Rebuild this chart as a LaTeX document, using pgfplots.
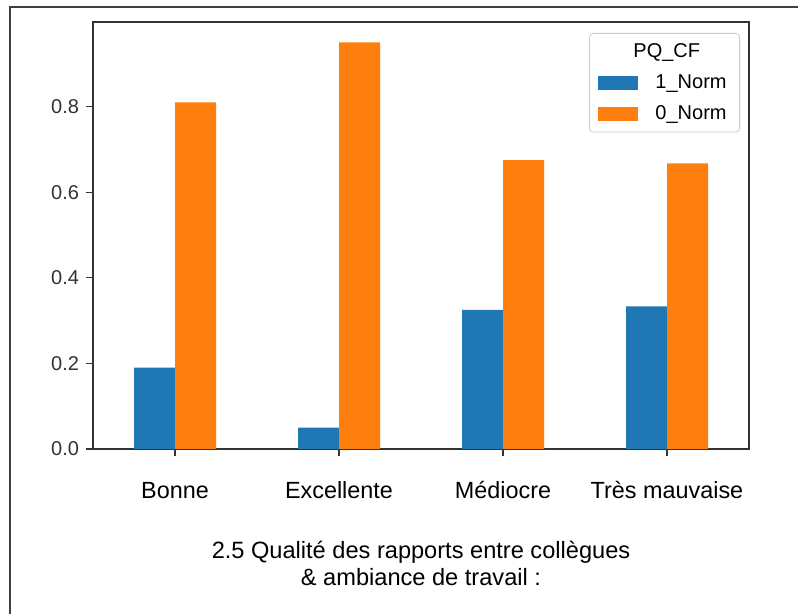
\documentclass[border=0pt]{standalone}
\usepackage{pgfplots}
\pgfplotsset{compat=1.18}
\usepackage{fontspec}
\setmainfont{Liberation Sans}
\definecolor{mblue}{HTML}{1F77B4}
\definecolor{morange}{HTML}{FF7F0E}
\begin{document}
\begin{tikzpicture}[x=1pt,y=1pt]
\path[use as bounding box] (0,0) rectangle (399,307);
\fill[white] (0,0) rectangle (399,307);
\draw[line width=1pt, black!75] (5,0) -- (5,303.5) -- (399,303.5);
\begin{axis}[
  at={(46.5pt,82.5pt)}, anchor=south west,
  scale only axis, width=328pt, height=213.5pt,
  xmin=-0.5, xmax=3.5, ymin=0, ymax=0.9975,
  xtick={0,1,2,3},
  xticklabels={Bonne,Excellente,Médiocre,Très mauvaise},
  ytick={0,0.2,0.4,0.6,0.8},
  /pgf/number format/assume math mode=true,
  yticklabel style={/pgf/number format/fixed,/pgf/number format/fixed zerofill,/pgf/number format/precision=1, font=\fontsize{10}{12}\selectfont, text=black!80},
  xticklabel style={font=\fontsize{11.7}{13}\selectfont, anchor=base, yshift=-21.5pt},
  tick pos=left, tick align=outside, major tick length=3.5pt,
  tick style={black!80, line width=0.6pt},
  axis line style={black!80, line width=0.6pt},
  xlabel={2.5 Qualité des rapports entre collègues\\\& ambiance de travail :},
  xlabel style={at={(axis description cs:0.5,0)}, anchor=base, yshift=-68.5pt, align=center, font=\fontsize{11.8}{13.5}\selectfont},
  ybar, bar width=0.25,
  legend style={at={(1,1)}, anchor=north east, xshift=-4.5pt, yshift=-5.5pt, draw=black!20, rounded corners=2pt, font=\fontsize{10}{12}\selectfont, cells={anchor=west}, row sep=3pt, inner xsep=4.5pt, inner ysep=3pt, /tikz/every odd column/.append style={column sep=6.5pt}},
  legend image code/.code={\fill[#1, sharp corners] (0pt,-3.5pt) rectangle (20pt,3.5pt);},
]
\addlegendimage{empty legend}
\addlegendentry{\hspace*{-11pt}PQ\_CF}
\addplot[fill=mblue, draw=none, bar shift=-0.125] coordinates {(0,0.19) (1,0.05) (2,0.325) (3,0.333)};
\addlegendentry{1\_Norm}
\addplot[fill=morange, draw=none, bar shift=0.125] coordinates {(0,0.81) (1,0.95) (2,0.675) (3,0.667)};
\addlegendentry{0\_Norm}
\end{axis}
\end{tikzpicture}
\end{document}
